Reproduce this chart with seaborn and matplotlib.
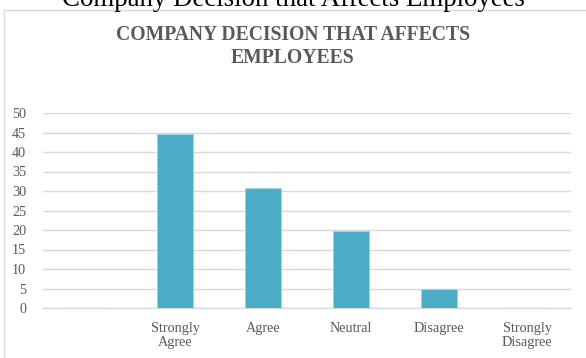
import matplotlib
matplotlib.use("Agg")
import matplotlib.pyplot as plt
import matplotlib.patches as mpatches
import seaborn as sns
import pandas as pd

categories = ["", "Strongly\nAgree", "Agree", "Neutral", "Disagree", "Strongly\nDisagree"]
values = [0, 44.5, 30.7, 19.8, 5, 0]
y_ticks = [0, 5, 10, 15, 20, 25, 30, 35, 40, 45, 50]

sns.set_theme(style="white")
plt.rcParams["font.family"] = ["Liberation Serif", "DejaVu Serif"]

W, H = 586, 358
fig = plt.figure(figsize=(W / 100, H / 100), dpi=100)
fig.patch.set_facecolor("white")

# chart frame
frame = mpatches.Rectangle((4 / W, -0.1), 1.2, (H - 10) / H + 0.1,
                           transform=fig.transFigure, facecolor="none",
                           edgecolor="#d9d9d9", linewidth=1.0, zorder=-1)
fig.patches.append(frame)

fig.text(0.5, 1 - 6 / H, "Company Decision that Affects Employees",
         ha="center", va="baseline", fontsize=19.4, color="black")
fig.text(0.5, 1 - 40 / H, "COMPANY DECISION THAT AFFECTS",
         ha="center", va="baseline", fontsize=14.1, fontweight="bold",
         color="#595959")
fig.text(0.5, 1 - 63 / H, "EMPLOYEES",
         ha="center", va="baseline", fontsize=14.1, fontweight="bold",
         color="#595959")

ax = fig.add_axes([43 / W, (H - 308) / H, 528 / W, (308 - 113) / H])
df = pd.DataFrame({"cat": categories, "val": values})
sns.barplot(data=df, x="cat", y="val", ax=ax, color="#4bacc6", saturation=1,
            width=0.41, edgecolor="#9fd3e0", linewidth=0.8, zorder=3)

ax.set_ylim(0, 50)
ax.set_xlim(-0.5, len(categories) - 0.5)
ax.set_yticks(y_ticks)
ax.set_yticklabels([str(t) for t in y_ticks])
ax.grid(axis="y", color="#d9d9d9", linewidth=1.0, zorder=0)
ax.set_axisbelow(True)
for s in ["top", "right", "left"]:
    ax.spines[s].set_visible(False)
ax.spines["bottom"].set_color("#d9d9d9")
ax.spines["bottom"].set_linewidth(1.0)
ax.set_xlabel("")
ax.set_ylabel("")
ax.tick_params(axis="both", length=0, labelsize=10.3, labelcolor="#595959")
ax.tick_params(axis="y", pad=12)
ax.tick_params(axis="x", pad=10)
for lbl in ax.get_xticklabels():
    lbl.set_linespacing(1.15)
ax.set_facecolor("none")

fig.savefig("out.png", dpi=100)
